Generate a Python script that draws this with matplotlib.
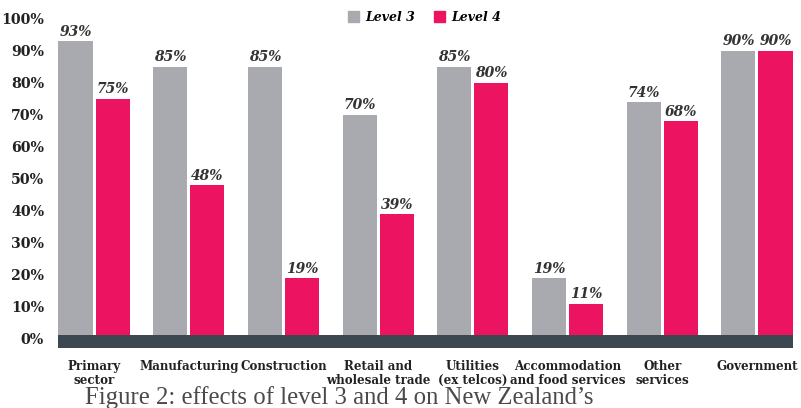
import numpy as np
import matplotlib.pyplot as plt
from matplotlib.patches import Patch

categories = ["Primary\nsector", "Manufacturing", "Construction", "Retail and\nwholesale trade",
              "Utilities\n(ex telcos)", "Accommodation\nand food services", "Other\nservices", "Government"]
level3 = [93, 85, 85, 70, 85, 19, 74, 90]
level4 = [75, 48, 19, 39, 80, 11, 68, 90]
yticks = [0, 10, 20, 30, 40, 50, 60, 70, 80, 90, 100]

grey = "#a9a9b0"
pink = "#ec1460"
band = "#3c4752"
serif = ["DejaVu Serif"]

fig = plt.figure(figsize=(8.01, 4.08), dpi=100)
ax = fig.add_axes([58 / 801, 59.4 / 408, 735 / 801, 329.6 / 408])

x = np.arange(len(categories))
w = 0.36
gap = 0.016
b3 = ax.bar(x - w / 2 - gap, level3, w, color=grey, zorder=2)
b4 = ax.bar(x + w / 2 + gap, level4, w, color=pink, zorder=2)

for bars, vals in ((b3, level3), (b4, level4)):
    for r, v in zip(bars, vals):
        ax.text(r.get_x() + r.get_width() / 2, v + 0.8, f"{v}%", ha="center", va="bottom",
                fontsize=10, fontweight="bold", fontstyle="italic", family=serif, color="#333333")

# thick dark baseline
ax.axhspan(-2.9, 1.2, color=band, zorder=3, lw=0)

ax.set_xlim(x[0] - w - gap - 0.005, x[-1] + w + gap + 0.005)
ax.set_ylim(-3, 100)
ax.set_yticks(yticks)
ax.set_yticklabels([f"{t}%" for t in yticks], fontsize=10.2, fontweight="bold", family=serif,
                   color="#222222")
ax.tick_params(axis="y", length=0, pad=10)
ax.set_xticks(x)
ax.set_xticklabels(categories, fontsize=8.6, fontweight="bold", family=serif, color="#222222",
                   linespacing=1.1)
ax.tick_params(axis="x", length=0, pad=8)
for s in ax.spines.values():
    s.set_visible(False)

handles = [Patch(color=grey, label="Level 3"), Patch(color=pink, label="Level 4")]
fig.legend(handles=handles, loc="center", bbox_to_anchor=(0.53, 0.958), ncol=2, frameon=False,
           handlelength=0.9, handleheight=0.9, handletextpad=0.5, columnspacing=1.5,
           prop={"family": serif, "weight": "bold", "style": "italic", "size": 9})

fig.text(85 / 801, 10 / 408, "Figure 2: effects of level 3 and 4 on New Zealand\u2019s",
         family=["Liberation Serif"], fontsize=17.8, color="#4a4a4a", va="center", ha="left")

fig.savefig("out.png", dpi=100)
